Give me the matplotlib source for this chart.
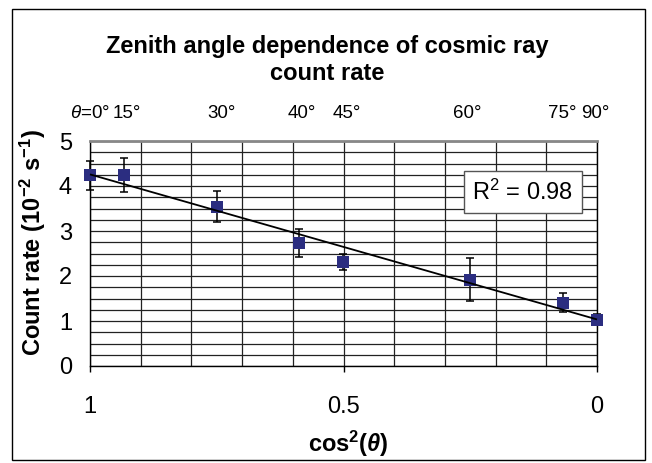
import numpy as np
import matplotlib
matplotlib.use("Agg")
import matplotlib.pyplot as plt
from matplotlib.patches import Rectangle
from matplotlib.ticker import MultipleLocator
import matplotlib.transforms as mtransforms

plt.rcParams['font.family'] = ['Liberation Sans', 'DejaVu Sans']
plt.rcParams['mathtext.fontset'] = 'custom'
plt.rcParams['mathtext.rm'] = 'Liberation Sans'
plt.rcParams['mathtext.it'] = 'Liberation Sans:italic'
plt.rcParams['mathtext.bf'] = 'Liberation Sans:bold'
plt.rcParams['mathtext.bfit'] = 'Liberation Sans:italic:bold'

# ---- data ----
angles_deg = [0, 15, 30, 40, 45, 60, 75, 90]
count_rate = [4.24, 4.25, 3.54, 2.74, 2.32, 1.92, 1.41, 1.03]
count_err = [0.32, 0.38, 0.35, 0.31, 0.18, 0.47, 0.21, 0.12]
top_labels = [r"$\theta$=0°", "15°", "30°", "40°", "45°", "60°", "75°", "90°"]
top_label_pos = [1.0, 0.927, 0.740, 0.582, 0.493, 0.256, 0.069, 0.004]
x_ticks = [1, 0.5, 0]
x_ticklabels = ["1", "0.5", "0"]
y_ticks = [0, 1, 2, 3, 4, 5]
r2_text = r"R$^2$ = 0.98"

x = np.cos(np.radians(angles_deg)) ** 2
y = np.array(count_rate)

fig = plt.figure(figsize=(6.52, 4.63), dpi=100)
W, H = 652, 463
ax = fig.add_axes([90 / W, 1 - 366 / H, 507 / W, 225 / H])

# figure frame
fig.patches.append(Rectangle((12 / W, 1 - 460 / H), (645 - 12) / W, (460 - 9) / H,
                             transform=fig.transFigure, fill=False,
                             edgecolor='black', linewidth=1.0))

ax.set_xlim(1, 0)
ax.set_ylim(0, 5)
ax.xaxis.set_major_locator(MultipleLocator(0.5))
ax.xaxis.set_minor_locator(MultipleLocator(0.1))
ax.yaxis.set_major_locator(MultipleLocator(1))
ax.yaxis.set_minor_locator(MultipleLocator(0.25))
ax.set_xticks(x_ticks)
ax.set_xticklabels(x_ticklabels)
ax.set_yticks(y_ticks)
ax.grid(True, which='both', color='#222222', linewidth=0.9)
ax.set_axisbelow(True)
ax.tick_params(axis='x', which='major', length=4.5, width=1, pad=17, labelsize=17,
               direction='out')
ax.tick_params(axis='x', which='minor', length=0)
ax.tick_params(axis='y', which='both', length=0, pad=13, labelsize=17)
for s in ['left', 'bottom', 'right']:
    ax.spines[s].set_color('black')
    ax.spines[s].set_linewidth(1.0)
ax.spines['top'].set_color('#888888')
ax.spines['top'].set_linewidth(2)

# error bars and markers
eb = ax.errorbar(x, y, yerr=count_err, fmt='none', ecolor='black', elinewidth=1.1,
                 capsize=3.2, capthick=1.1, zorder=3)
for art in eb.lines[1] + eb.lines[2]:
    art.set_clip_on(False)
ax.plot(x, y, 's', color='#2B2D80', markersize=8.6, markeredgewidth=0, zorder=4,
        clip_on=False)

# linear trend line
slope, intercept = np.polyfit(x, y, 1)
xl = np.array([1.0, 0.0])
ax.plot(xl, slope * xl + intercept, color='black', linewidth=1.3, zorder=5,
        solid_capstyle='butt', clip_on=False)

# R^2 box
ax.text(0.146, 3.86, r2_text, fontsize=17, ha='center', va='center', zorder=6,
        bbox=dict(boxstyle='square,pad=0.35', facecolor='white',
                  edgecolor='#555555', linewidth=1))

# top angle labels
trans = mtransforms.blended_transform_factory(ax.transData, ax.transAxes)
for xv, lab in zip(top_label_pos, top_labels):
    ax.text(xv, (366 - 113) / 225, lab, transform=trans, fontsize=13.5,
            ha='center', va='center')

# titles and labels
fig.text(327 / W, 1 - 46 / H, "Zenith angle dependence of cosmic ray",
         fontsize=17, fontweight='bold', ha='center', va='center')
fig.text(327 / W, 1 - 73 / H, "count rate",
         fontsize=17, fontweight='bold', ha='center', va='center')
fig.text(348 / W, 1 - 444 / H, r"$\mathbf{cos^2(}\mathbfit{\theta}\mathbf{)}$",
         fontsize=17, ha='center', va='center')
fig.text(33 / W, 1 - 243 / H,
         r"Count rate (10$^{\mathbf{-2}}$ s$^{\mathbf{-1}}$)",
         fontsize=17, fontweight='bold', rotation=90, ha='center', va='center')

fig.savefig("out.png", dpi=100)
